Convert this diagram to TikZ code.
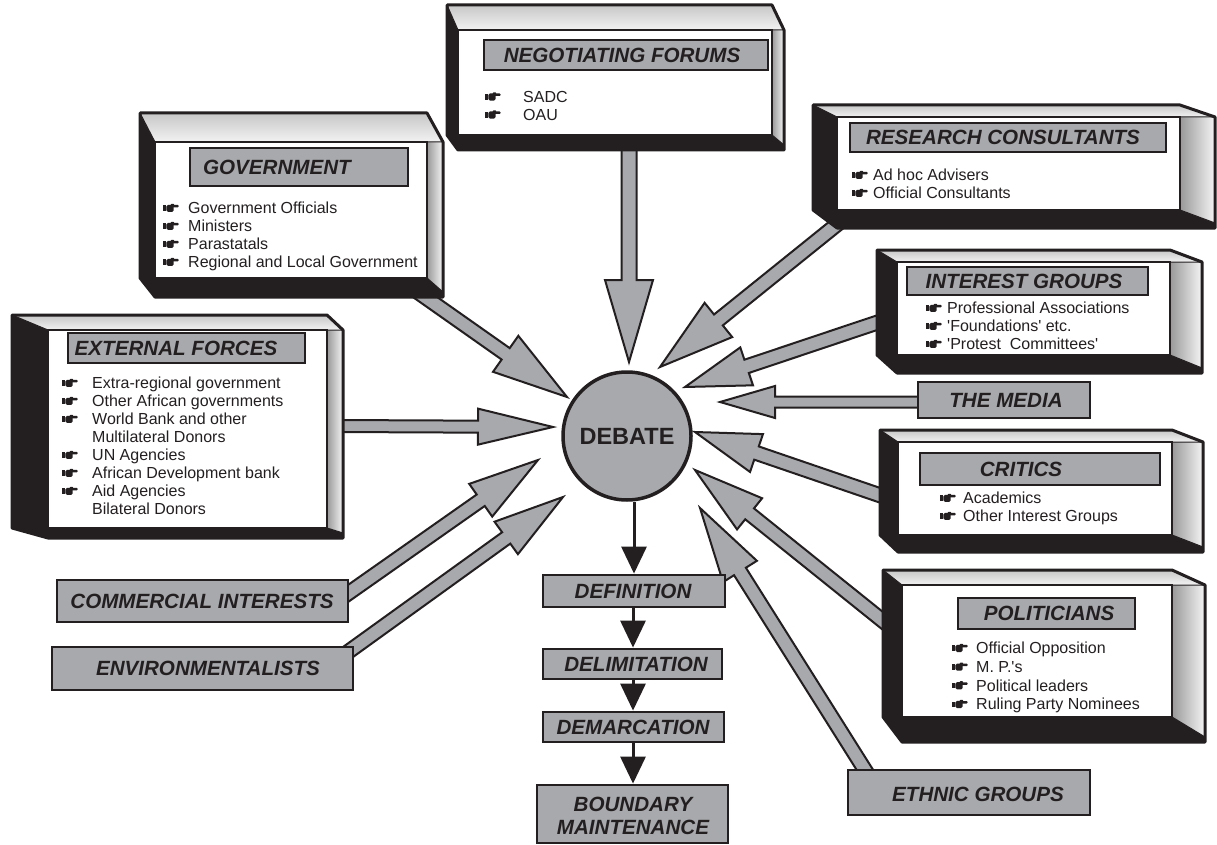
\documentclass[tikz,border=0pt]{standalone}
\usepackage{fontspec}
\setmainfont{Liberation Sans}[Ligatures=TeXOff]
\usetikzlibrary{calc,arrows.meta}
\definecolor{ink}{HTML}{231F20}
\definecolor{boxgray}{HTML}{A7A9AC}

\tikzset{
 titlebox/.style={draw=ink, line width=2.8pt, fill=boxgray, inner sep=0pt},
 titletext/.style={text=ink, font=\fontsize{20.6}{23}\selectfont\bfseries\itshape, inner sep=0pt, align=center},
 itemtext/.style={text=ink, font=\fontsize{16}{18}\selectfont, align=left, inner sep=0pt, anchor=north west},
 facebox/.style={draw=ink, line width=1.2pt, fill=white, inner sep=0pt},
 garrowst/.style={draw=ink, line width=2pt, fill=boxgray, line join=miter},
 barrow/.style={draw=ink, line width=3pt, -{Triangle[length=27pt,width=25pt]}},
 debatest/.style={circle, draw=ink, line width=3.5pt, fill=boxgray, font=\fontsize{23.5}{26}\selectfont\bfseries, text=ink, minimum size=128pt, inner sep=0pt},
}

% pointing-hand bullet
\newcommand\hand{\tikz[x=1pt,y=1pt,baseline=-2pt]{%
 \fill[ink] (0,0.8) rectangle (2.4,6.4);
 \fill[ink, rounded corners=1.6pt] (3.2,-0.2) rectangle (10.5,7);
 \fill[ink, rounded corners=1pt] (9,4.4) rectangle (15.5,6.9);
 \fill[ink, rounded corners=0.8pt] (7.5,6) rectangle (11,8);}}
\newcommand\hitem[2]{\makebox[#1pt][l]{\hand}#2}
\newcommand\nitem[2]{\makebox[#1pt][l]{}#2}

% 3D box: name, outer x1 y1 x2 y2, face x1 y1 x2 y2
\newcommand\tdbox[9]{%
 \fill[ink] (#2,#3) -- (#8,#3) -- (#4,#7) -- (#4,#5) -- (#6,#5) -- (#2,#9) -- cycle;
 \shade[top color=black!22, bottom color=black!5] (#2,#3) -- (#8,#3) -- (#4,#7) -- (#6,#7) -- cycle;
 \shade[left color=black!40, right color=black!4] (#8,#7) -- (#4,#7) -- (#4,{#5-5}) -- (#8,#9) -- cycle;
 \node[facebox, minimum width={(#8-#6)*1pt}, minimum height={(#9-#7)*1pt}] (#1) at ({(#6+#8)/2},{(#7+#9)/2}) {};
 \draw[ink, line width=1pt] (#2,#3) -- (#6,#7) (#8,#7) -- (#4,#7) (#8,#9) -- (#4,{#5-5});
 \draw[ink, line width=3pt, line join=round] (#2,#3) -- (#8,#3) -- (#4,#7) -- (#4,#5) -- (#6,#5) -- (#2,#9) -- cycle;
}

% title box: name, x1 y1 x2 y2, text cx cy, text
\newcommand\tbox[8]{%
 \node[titlebox, minimum width={(#4-#2)*1pt}, minimum height={(#5-#3)*1pt}] (#1) at ({(#2+#4)/2},{(#3+#5)/2}) {};
 \node[titletext] (#1-t) at (#6,#7) {#8};
}

% gray block arrow: start, tip, head length, head half width, shaft half width
\newcommand\garrow[5]{%
 \coordinate (gH) at ($(#2)!#3pt!(#1)$);
 \draw[garrowst] ($(#1)!#5pt!90:(#2)$) -- ($(gH)!#5pt!90:(#2)$) -- ($(gH)!#4pt!90:(#2)$) -- (#2) -- ($(gH)!#4pt!-90:(#2)$) -- ($(gH)!#5pt!-90:(#2)$) -- ($(#1)!#5pt!-90:(#2)$) -- cycle;
}

\begin{document}
\begin{tikzpicture}[x=1pt,y=-1pt]
\useasboundingbox (0,0) rectangle (1217,845);

% centre
\node[debatest] (debate) at (627,436) {DEBATE};

% arrow end points
\coordinate (gA) at (415,290);   \coordinate (gB) at (567,397);
\coordinate (nA) at (629,140);   \coordinate (nB) at (629,362);
\coordinate (rA) at (840,222);   \coordinate (rB) at (660,367);
\coordinate (iA) at (885,320);   \coordinate (iB) at (685,387);
\coordinate (mA) at (925,402);   \coordinate (mB) at (720,402);
\coordinate (cA) at (885,497);   \coordinate (cB) at (695,432);
\coordinate (pA) at (888,625);   \coordinate (pB) at (695,470);
\coordinate (eA) at (870,778);   \coordinate (eB) at (700,508);
\coordinate (xA) at (335,426);   \coordinate (xB) at (553,427);
\coordinate (kA) at (343,597);   \coordinate (kB) at (538,460);
\coordinate (vA) at (348,652);   \coordinate (vB) at (563,497);

\garrow{gA}{gB}{75}{22}{7}
\garrow{nA}{nB}{82}{24}{7.5}
\garrow{rA}{rB}{75}{22}{7}
\garrow{iA}{iB}{65}{20}{7}
\garrow{mA}{mB}{55}{16}{5.5}
\garrow{cA}{cB}{65}{20}{7}
\garrow{pA}{pB}{70}{20}{7}
\garrow{eA}{eB}{75}{20}{7}
\garrow{xA}{xB}{75}{18}{6}
\garrow{kA}{kB}{70}{20}{7}
\garrow{vA}{vB}{70}{20}{7}

% 3D boxes
\tdbox{gov}{140}{113}{443}{297}{155}{142}{427}{278}
\tdbox{nf}{447}{5}{784}{150}{458}{30}{772}{135}
\tdbox{rc}{813}{105}{1215}{228}{837}{117}{1180}{210}
\tdbox{ig}{877}{250}{1202}{373}{897}{262}{1170}{355}
\tdbox{cr}{880}{430}{1203}{552}{898}{442}{1172}{535}
\tdbox{pol}{883}{570}{1205}{742}{902}{585}{1172}{717}
\tdbox{ext}{12}{315}{343}{538}{48}{330}{327}{528}

% titles inside boxes
\tbox{govT}{190}{148}{408}{186}{277}{167}{GOVERNMENT}
\tbox{nfT}{484}{40}{768}{70}{622}{55}{NEGOTIATING FORUMS}
\tbox{rcT}{850}{123}{1166}{152}{1003}{137.5}{RESEARCH CONSULTANTS}
\tbox{igT}{907}{267}{1148}{295}{1024}{281}{INTEREST GROUPS}
\tbox{crT}{920}{453}{1160}{485}{1021}{469}{CRITICS}
\tbox{polT}{958}{598}{1135}{629}{1049}{613.5}{POLITICIANS}
\tbox{extT}{68}{333}{305}{363}{176}{348}{EXTERNAL FORCES}

% stand-alone labels
\tbox{media}{918}{382}{1090}{418}{1006}{400}{THE MEDIA}
\tbox{comm}{57}{580}{348}{622}{202}{601}{COMMERCIAL INTERESTS}
\tbox{env}{52}{647}{353}{690}{208}{668}{ENVIRONMENTALISTS}
\tbox{eth}{848}{770}{1090}{815}{978}{794}{ETHNIC GROUPS}

% process chain
\tbox{def}{543}{575}{725}{607}{633}{591}{DEFINITION}
\tbox{del}{543}{649}{722}{679}{636}{664}{DELIMITATION}
\tbox{dem}{543}{712}{724}{742}{633}{727}{DEMARCATION}
\tbox{bm}{537}{785}{728}{843}{633}{816}{BOUNDARY\\MAINTENANCE}

\draw[barrow] (debate.south -| def.north) -- (def.north);
\draw[barrow] (def.south -| 633,0) -- (del.north -| 633,0);
\draw[barrow] (del.south -| 633,0) -- (dem.north -| 633,0);
\draw[barrow] (dem.south -| 633,0) -- (bm.north -| 633,0);

% item lists
\node[itemtext] (govL) at (163,202) {\hitem{25}{Government Officials}\\\hitem{25}{Ministers}\\\hitem{25}{Parastatals}\\\hitem{25}{Regional and Local Government}};
\node[itemtext] (nfL) at (485,91) {\hitem{38}{SADC}\\\hitem{38}{OAU}};
\node[itemtext] (rcL) at (852,169) {\hitem{21}{Ad hoc Advisers}\\\hitem{21}{Official Consultants}};
\node[itemtext] (igL) at (926,302) {\hitem{21}{Professional Associations}\\\hitem{21}{'Foundations' etc.}\\\hitem{21}{'Protest\ \ Committees'}};
\node[itemtext] (crL) at (940,492) {\hitem{23}{Academics}\\\hitem{23}{Other Interest Groups}};
\node[itemtext, font=\fontsize{16}{18.7}\selectfont] (polL) at (952,642) {\hitem{24}{Official Opposition}\\\hitem{24}{M. P.'s}\\\hitem{24}{Political leaders}\\\hitem{24}{Ruling Party Nominees}};
\node[itemtext] (extL) at (62,377) {\hitem{30}{Extra-regional government}\\\hitem{30}{Other African governments}\\\hitem{30}{World Bank and other}\\\nitem{30}{Multilateral Donors}\\\hitem{30}{UN Agencies}\\\hitem{30}{African Development bank}\\\hitem{30}{Aid Agencies}\\\nitem{30}{Bilateral Donors}};
\end{tikzpicture}
\end{document}
